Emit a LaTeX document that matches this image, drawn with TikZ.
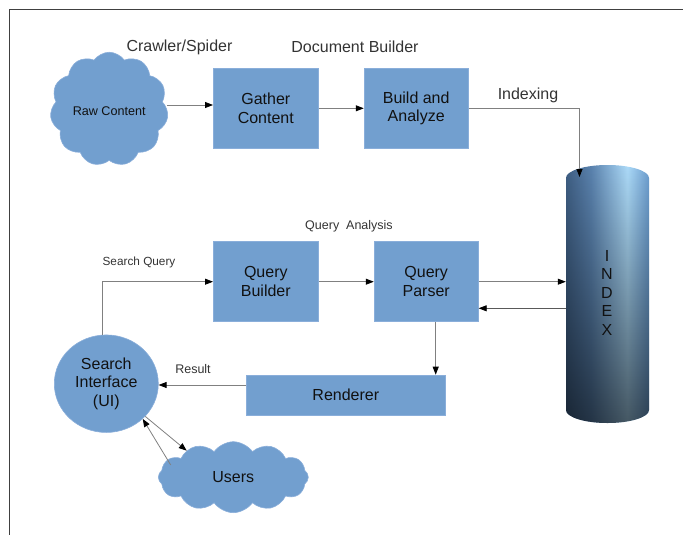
\documentclass[tikz,border=0pt]{standalone}
\usepackage{fontspec}
\setmainfont{Liberation Sans}
\usetikzlibrary{shapes.symbols,shapes.geometric,arrows.meta,fadings,calc}
\definecolor{boxfill}{HTML}{729FCF}
\definecolor{boxline}{HTML}{8AAEDA}
\definecolor{linegray}{HTML}{808080}
\definecolor{labgray}{HTML}{333333}
\definecolor{txt}{HTML}{111111}
\definecolor{cylA}{HTML}{3F5F84}
\definecolor{cylB}{HTML}{5A82AE}
\definecolor{cylC}{HTML}{ACDAF8}
\definecolor{cylD}{HTML}{6C9ED0}
\pgfdeclarehorizontalshading{cylsh}{100bp}{color(0bp)=(cylA); color(25bp)=(cylA); color(40bp)=(cylB); color(62bp)=(cylC); color(75bp)=(cylD); color(100bp)=(cylD)}
\tikzfading[name=fadedown, top color=transparent!100, bottom color=transparent!40]
\begin{document}
\begin{tikzpicture}[x=1pt,y=-1pt,
  box/.style={rectangle, draw=boxline, line width=0.6pt, fill=boxfill, inner sep=0pt, align=center, text=txt, font=\fontsize{16}{18.5}\selectfont},
  cloudy/.style={cloud, draw=boxline, line width=0.6pt, fill=boxfill, inner sep=0pt, align=center, text=txt},
  lab/.style={text=labgray, inner sep=0pt},
  arr/.style={draw=linegray, line width=0.8pt, -{Triangle[length=8pt,width=6pt,color=black]}},
]
\useasboundingbox (0,0) rectangle (683,535);
% frame
\draw[line width=1.3pt, color=black!75] (9.5,535) -- (9.5,9.5) -- (683,9.5);

% top row
\node[cloudy, cloud puffs=11, cloud puff arc=110, minimum width=118pt, minimum height=92pt, text height=15pt, text depth=3pt, font=\fontsize{12.6}{14}\selectfont] (raw) at (109.2,109.2) {Raw Content};
\node[box, minimum width=105pt, minimum height=80pt] (gather) at (265.8,108.3) {Gather\\Content};
\node[box, minimum width=104.3pt, minimum height=80pt] (build) at (416.2,108.3) {Build and\\Analyze};
\node[lab, font=\fontsize{16}{18}\selectfont] (crawl) at (179.5,47) {Crawler/Spider};
\node[lab, font=\fontsize{16}{18}\selectfont] (docb) at (355,47) {Document Builder};
\node[lab, font=\fontsize{16}{18}\selectfont] (idxlab) at (528,95) {Indexing};

% index cylinder
\node[minimum width=83pt, minimum height=258pt, inner sep=0pt] (index) at (607.5,294) {};
\shade[shading=cylsh] (566,178) -- (566,410) arc[start angle=180, end angle=360, x radius=41.5pt, y radius=13pt] -- (649,178) arc[start angle=0, end angle=180, x radius=41.5pt, y radius=13pt] -- cycle;
\fill[black, path fading=fadedown, fit fading=true] (566,178) -- (566,410) arc[start angle=180, end angle=360, x radius=41.5pt, y radius=13pt] -- (649,178) arc[start angle=0, end angle=180, x radius=41.5pt, y radius=13pt] -- cycle;
\node[text=txt, align=center, inner sep=0pt, font=\fontsize{16}{18.5}\selectfont] (idxtxt) at (607,292.5) {I\\N\\D\\E\\X};

% query row
\node[box, minimum width=105pt, minimum height=80pt] (qb) at (265.8,281.7) {Query\\Builder};
\node[box, minimum width=104.3pt, minimum height=80pt] (qp) at (426.2,281.7) {Query\\Parser};
\node[box, minimum width=199.7pt, minimum height=40pt] (rend) at (345.8,395) {Renderer};
\node[ellipse, draw=boxline, line width=0.6pt, fill=boxfill, minimum width=104pt, minimum height=97.5pt, inner sep=0pt, align=center, text=txt, font=\fontsize{16}{18.5}\selectfont] (si) at (106.3,383.7) {Search\\Interface\\(UI)};
\node[cloudy, cloud puffs=12, cloud puff arc=110, minimum width=150pt, minimum height=71pt, font=\fontsize{16}{18}\selectfont] (users) at (233.3,477.2) {Users};
\node[lab, font=\fontsize{12.5}{14}\selectfont] (qalab) at (349,226) {Query\ \ Analysis};
\node[lab, font=\fontsize{11.8}{14}\selectfont] (sqlab) at (139,262) {Search Query};
\node[lab, font=\fontsize{12.5}{14}\selectfont] (reslab) at (193,369) {Result};

% connectors
\coordinate (ixtop) at (579.5,177);
\coordinate (u1) at (186.7,450.7);
\coordinate (u2) at (170.7,465);
\draw[arr] ([yshift=3.3pt]gather.west -| raw.east) -- ([yshift=3.3pt]gather.west);
\draw[arr] (gather.east) -- (build.east -| build.west);
\draw[arr] (build.east) -| (ixtop);
\draw[arr] ([xshift=-3.6pt]si.north) |- (qb.west);
\draw[arr] (qb.east) -- (qp.west);
\draw[arr] (qp.east) -- (qp.east -| index.west);
\draw[arr, draw=black!65] ([yshift=-26.6pt]qp.east -| index.west) -- ([yshift=-26.6pt]qp.east);
\draw[arr] ([xshift=9.5pt]qp.south) -- ([xshift=9.5pt]qp.south |- rend.north);
\draw[arr] ([yshift=10pt]rend.west) -- ([yshift=10pt]rend.west -| si.east);
\draw[arr] (si.-40) -- (u1);
\draw[arr] (u2) -- (si.-44);
\end{tikzpicture}
\end{document}
